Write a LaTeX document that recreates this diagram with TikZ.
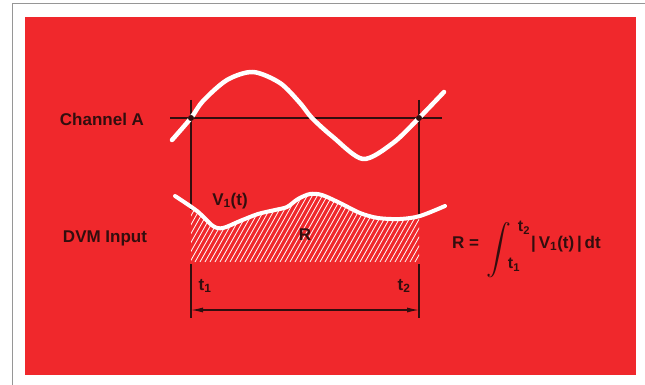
\documentclass[tikz,border=0pt]{standalone}
\usepackage{amsmath}
\usepackage{fontspec}
\setmainfont{Liberation Sans}
\usepackage{xcolor}
\usetikzlibrary{arrows.meta,positioning}
\definecolor{panelred}{RGB}{240,40,44}
\definecolor{inkdark}{RGB}{50,14,14}
\definecolor{framegray}{RGB}{150,150,150}

\begin{document}
\begin{tikzpicture}[
  x=1pt, y=-1pt,
  lbl/.style={text=inkdark, font=\fontsize{17}{20}\selectfont\bfseries, inner sep=0pt},
  trace/.style={white, line width=4.5pt, line cap=round, line join=round},
  guide/.style={inkdark, line width=1.1pt},
  dimarr/.style={{Latex[length=12pt,width=5pt]}-{Latex[length=12pt,width=5pt]}, inkdark, line width=1.1pt},
  hatch/.style={white, line width=0.8pt}
]
% frame and red panel
\useasboundingbox (0,0) rectangle (645,385);
\fill[white] (0,0) rectangle (645,385);
\draw[framegray, line width=1pt] (12,385) -- (12,4) -- (645,4);
\fill[panelred] (25,17) rectangle (636,375);

% marks at t1 and t2
\coordinate (p1) at (191,118);
\coordinate (p2) at (419,118);
\coordinate (top1) at (191,100);
\coordinate (top2) at (419,100);
\coordinate (mid1) at (191,210);
\coordinate (mid2) at (419,218);
\coordinate (low1) at (191,264);
\coordinate (low2) at (419,264);
\coordinate (bot1) at (191,318);
\coordinate (bot2) at (419,318);
\coordinate (ar1) at (191,310);
\coordinate (ar2) at (419,310);

% hatched area R
\begin{scope}
  \clip (191,150) rectangle (419,262);
  \clip plot[smooth] coordinates {(175,196) (197,211) (213,226) (223,228) (240,221)
    (258,214) (275,210) (287,207) (298,199) (310,194) (322,195) (340,203) (360,213)
    (378,218) (400,219) (420,216) (445,206)} -- (445,262) -- (175,262) -- cycle;
  \foreach \x in {130,135,...,440} \draw[hatch] (\x,262) -- ++(45,-80);
\end{scope}

\draw[guide] (top1) -- (mid1);
\draw[guide] (top2) -- (mid2);
\draw[guide] (low1) -- (bot1);
\draw[guide] (low2) -- (bot2);
\draw[dimarr] (ar1) -- (ar2);

% DVM input trace
\draw[trace, line width=4pt] plot[smooth] coordinates {(175,196) (197,211) (213,226)
  (223,228) (240,221) (258,214) (275,210) (287,207) (298,199) (310,194) (322,195)
  (340,203) (360,213) (378,218) (400,219) (420,216) (445,206)};

% channel A trace
\draw[guide] (170,118) -- (442,118);
\draw[trace] plot[smooth] coordinates {(172,140) (p1) (203,101) (227,80) (253,72)
  (280,83) (300,103) (312,118) (333,137) (363,159) (393,143) (p2) (444,92)};
\fill[inkdark] (p1) circle (3);
\fill[inkdark] (p2) circle (3);

% labels
\node[lbl] (chA) at (102,119) {Channel A};
\node[lbl] (dvm) at (105,238) {DVM Input};
\node[lbl] (vone) at (230,201) {V\textsubscript{1}(t)};
\node[lbl] (area) at (305,235) {R};
\node[lbl] (tone) at (205,286) {t\textsubscript{1}};
\node[lbl] (ttwo) at (404,286) {t\textsubscript{2}};

% formula
\node[lbl, anchor=base west] (req) at (452,248) {R =};
\node[text=inkdark, font=\fontsize{24}{28}\selectfont, inner sep=0pt] (intg) at (499,250) {$\displaystyle\int$};
\node[lbl, font=\fontsize{16}{18}\selectfont\bfseries] (upper) at (524,228) {t\textsubscript{2}};
\node[lbl, font=\fontsize{16}{18}\selectfont\bfseries] (lower) at (514,265) {t\textsubscript{1}};
\node[lbl, anchor=base west] (integrand) at (531,248) {|\,V\textsubscript{1}(t)\,|\,dt};
\end{tikzpicture}
\end{document}
